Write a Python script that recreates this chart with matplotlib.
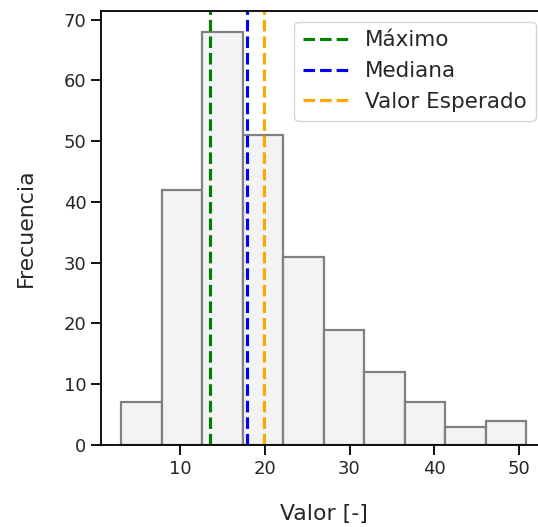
import numpy as np
import matplotlib
matplotlib.use("Agg")
import matplotlib.pyplot as plt

# histogram counts and bin range
counts = [7, 42, 68, 51, 31, 19, 12, 7, 3, 4]
bin_lo = 3.0
bin_hi = 50.9

# summary statistics
maximo = 13.47
mediana = 17.9
esperado = 19.94

edges = np.linspace(bin_lo, bin_hi, len(counts) + 1)

plt.rcParams["font.family"] = "DejaVu Sans"
plt.rcParams["text.color"] = "#262626"
plt.rcParams["axes.labelcolor"] = "#262626"

fig = plt.figure(figsize=(5.38, 5.27), dpi=100)
ax = fig.add_axes([0.1877, 0.1556, 0.828, 0.8235])

ax.bar(edges[:-1], counts, width=np.diff(edges), align="edge",
       facecolor="#f3f3f3", edgecolor="#808080", linewidth=1.6)

ax.axvline(maximo, color="green", ls="--", lw=2.25, label="Máximo")
ax.axvline(mediana, color="blue", ls="--", lw=2.25, label="Mediana")
ax.axvline(esperado, color="orange", ls="--", lw=2.25, label="Valor Esperado")

ax.set_xlabel("Valor [-]", fontsize=15.8, labelpad=19)
ax.set_ylabel("Frecuencia", fontsize=15.8, labelpad=20)
ax.set_yticks([0, 10, 20, 30, 40, 50, 60, 70])
ax.set_xticks([10, 20, 30, 40, 50])
ax.tick_params(labelsize=13, length=7, width=1.3, colors="#262626")
ax.tick_params(color="black")
ax.spines["right"].set_visible(False)
for s in ax.spines.values():
    s.set_linewidth(1.3)
    s.set_color("black")

ax.legend(loc="upper right", fontsize=15.5, handlelength=2.1)

fig.savefig("out.png", dpi=100)
